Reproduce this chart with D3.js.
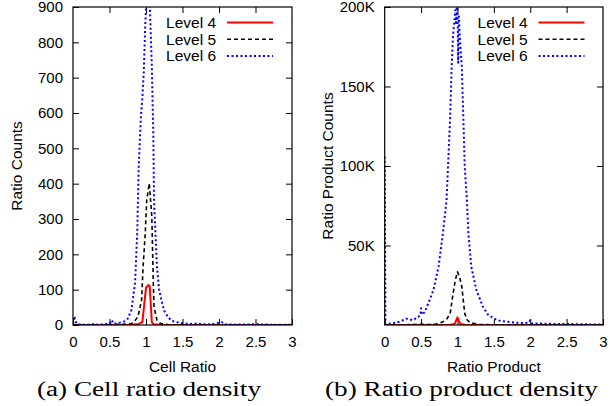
<!DOCTYPE html>
<html>
<head>
<meta charset="utf-8">
<script src="https://cdn.jsdelivr.net/npm/d3@7"></script>
<style>
  body { margin: 0; background: #fff; }
  svg { display: block; }
</style>
</head>
<body>
<svg id="main-svg"></svg>
<script>
// DATA
const X_TICKS = [0, 0.5, 1, 1.5, 2, 2.5, 3]
const CELL_Y_TICKS = [0, 100, 200, 300, 400, 500, 600, 700, 800, 900]
const PRODUCT_Y_TICKS = [50000, 100000, 150000, 200000]
const LEVELS = ["Level 4", "Level 5", "Level 6"]

// (a) cell ratio -> counts, [ratio, count]
const cellLevel4 = [[0, 0], [0.8, 1], [0.9, 3], [0.95, 8], [1.0, 105], [1.03, 113], [1.05, 111], [1.08, 8], [1.1, 2], [1.2, 0], [3, 0]]
const cellLevel5 = [[0, 0], [0.5, 1], [0.7, 2], [0.8, 4], [0.83, 8], [0.89, 23], [0.94, 71], [0.96, 164], [0.99, 260], [1.01, 354], [1.045, 401],
  [1.08, 306], [1.09, 212], [1.1, 119], [1.11, 51], [1.15, 14], [1.2, 4], [1.3, 1], [1.5, 0], [3, 0]]
const cellLevel6 = [[0, 2], [0.02, 25], [0.04, 8], [0.07, 2], [0.15, 1], [0.25, 1], [0.3, 4], [0.33, 1], [0.4, 2], [0.45, 3], [0.5, 4], [0.53, 14],
  [0.56, 3], [0.6, 5], [0.65, 7], [0.7, 10], [0.75, 18], [0.8, 42], [0.85, 119], [0.88, 260], [0.9, 447], [0.93, 589], [0.95, 640],
  [0.97, 720], [0.99, 850], [1.01, 940], [1.03, 980], [1.05, 920], [1.08, 730], [1.1, 541], [1.11, 352], [1.15, 164], [1.18, 100],
  [1.21, 71], [1.25, 40], [1.3, 23], [1.35, 12], [1.42, 8], [1.5, 5], [1.6, 3], [1.7, 4], [1.8, 2], [1.9, 2], [2.0, 6], [2.04, 8],
  [2.08, 2], [2.2, 1], [2.5, 2], [2.7, 1], [3, 1]]

// (b) ratio product -> counts
const productLevel4 = [[0, 0], [0.9, 100], [0.95, 500], [0.97, 1500], [1.0, 4800], [1.03, 1500], [1.05, 500], [1.1, 100], [3, 0]]
const productLevel5 = [[0, 0], [0.3, 200], [0.5, 500], [0.6, 300], [0.7, 500], [0.8, 2000], [0.85, 3500], [0.9, 7300], [0.94, 20000],
  [0.97, 28000], [1.0, 33500], [1.03, 30000], [1.06, 24000], [1.1, 7300], [1.13, 3500], [1.17, 1500], [1.3, 300], [1.5, 100],
  [2.5, 100], [3, 0]]
const productLevel6 = [[0, 106000], [0.01, 500], [0.05, 800], [0.1, 1000], [0.15, 1500], [0.2, 2000], [0.25, 3000], [0.3, 4000],
  [0.35, 3500], [0.39, 3000], [0.45, 5000], [0.49, 6000], [0.5, 10500], [0.51, 6500], [0.55, 8000], [0.58, 11500], [0.62, 16000],
  [0.67, 22000], [0.74, 36700], [0.8, 57700], [0.85, 78600], [0.87, 99600], [0.9, 131000], [0.92, 162000], [0.94, 183000],
  [0.96, 192000], [0.97, 198000], [0.98, 190000], [0.99, 199000], [1.0, 200000], [1.01, 165000], [1.02, 194000], [1.03, 183000],
  [1.06, 162000], [1.08, 131000], [1.1, 99600], [1.13, 78600], [1.15, 57700], [1.19, 36700], [1.26, 22000], [1.35, 11500],
  [1.42, 6500], [1.49, 4400], [1.55, 3000], [1.6, 2500], [1.7, 2000], [1.8, 1500], [1.9, 1200], [1.98, 1500], [2.0, 3000],
  [2.02, 1000], [2.1, 1000], [2.2, 800], [2.5, 600], [2.8, 400], [3, 300]]

// LAYOUT
const WIDTH = 610
const HEIGHT = 406
const PLOT_TOP = 7
const PLOT_BOTTOM = 325
const TICK_LEN = 6
const SANS = "'Liberation Sans', Arial, sans-serif"
const SERIF = "'Liberation Serif', 'Times New Roman', serif"

const STYLES = [
  { color: "#ff0000", width: 2, dash: null },
  { color: "#000000", width: 1.6, dash: "4,3" },
  { color: "#0000ff", width: 2, dash: "2,2.5" }
]

const svg = d3.select("#main-svg").attr("width", WIDTH).attr("height", HEIGHT)
svg.append("rect").attr("width", WIDTH).attr("height", HEIGHT).attr("fill", "#fff")

function drawPanel(opts) {
  const x = d3.scaleLinear().domain([0, 3]).range([opts.left, opts.right])
  const y = d3.scaleLinear().domain([0, opts.yMax]).range([PLOT_BOTTOM, PLOT_TOP])
  const g = svg.append("g")

  const clipId = "clip-" + opts.id
  svg.append("clipPath").attr("id", clipId)
    .append("rect")
    .attr("x", opts.left).attr("y", PLOT_TOP)
    .attr("width", opts.right - opts.left).attr("height", PLOT_BOTTOM - PLOT_TOP)

  // axes, gnuplot style: ticks inside, mirrored
  const bottom = g.append("g").attr("transform", `translate(0,${PLOT_BOTTOM})`)
    .call(d3.axisBottom(x).tickValues(X_TICKS).tickSize(-TICK_LEN).tickPadding(11).tickFormat(d3.format("")))
  const top = g.append("g").attr("transform", `translate(0,${PLOT_TOP})`)
    .call(d3.axisTop(x).tickValues(X_TICKS.slice(1, -1)).tickSize(-TICK_LEN).tickFormat(""))
  const left = g.append("g").attr("transform", `translate(${opts.left},0)`)
    .call(d3.axisLeft(y).tickValues(opts.yTicks).tickSize(-TICK_LEN).tickPadding(10).tickFormat(opts.yFormat))
  const right = g.append("g").attr("transform", `translate(${opts.right},0)`)
    .call(d3.axisRight(y).tickValues(opts.yTicks.filter(v => v > 0 && v < opts.yMax)).tickSize(-TICK_LEN).tickFormat(""))

  ;[bottom, top, left, right].forEach(a => {
    a.select(".domain").remove()
    a.selectAll("line").attr("stroke", "#000").attr("stroke-width", 1)
    a.selectAll("text").attr("font-family", SANS).attr("font-size", 15).attr("fill", "#000")
  })

  const line = d3.line().x(d => x(d[0])).y(d => y(d[1]))
  const lines = g.append("g").attr("clip-path", `url(#${clipId})`)
  opts.series.forEach((data, i) => {
    lines.append("path")
      .datum(data)
      .attr("d", line)
      .attr("fill", "none")
      .attr("stroke", STYLES[i].color)
      .attr("stroke-width", STYLES[i].width)
      .attr("stroke-dasharray", STYLES[i].dash)
      .attr("stroke-linejoin", "round")
  })

  // frame
  g.append("rect")
    .attr("x", opts.left).attr("y", PLOT_TOP)
    .attr("width", opts.right - opts.left).attr("height", PLOT_BOTTOM - PLOT_TOP)
    .attr("fill", "none").attr("stroke", "#000").attr("stroke-width", 1.2)

  // legend
  const legend = g.append("g")
  LEVELS.forEach((name, i) => {
    const ly = 22.5 + i * 16.7
    legend.append("text")
      .attr("x", opts.legendTextRight).attr("y", ly).attr("dy", "0.35em")
      .attr("text-anchor", "end")
      .attr("font-family", SANS).attr("font-size", 15.5)
      .text(name)
    legend.append("line")
      .attr("x1", opts.legendTextRight + 11).attr("x2", opts.legendTextRight + 57)
      .attr("y1", ly).attr("y2", ly)
      .attr("stroke", STYLES[i].color)
      .attr("stroke-width", STYLES[i].width)
      .attr("stroke-dasharray", STYLES[i].dash)
  })

  // axis titles
  g.append("text")
    .attr("x", (opts.left + opts.right) / 2).attr("y", 372)
    .attr("text-anchor", "middle")
    .attr("font-family", SANS).attr("font-size", 15.5)
    .text(opts.xTitle)
  g.append("text")
    .attr("transform", `translate(${opts.yTitleX},${(PLOT_TOP + PLOT_BOTTOM) / 2}) rotate(-90)`)
    .attr("text-anchor", "middle")
    .attr("font-family", SANS).attr("font-size", 15.5)
    .text(opts.yTitle)

  // caption
  g.append("text")
    .attr("x", opts.captionX).attr("y", 396)
    .attr("text-anchor", "middle")
    .attr("font-family", SERIF).attr("font-size", 20)
    .attr("textLength", opts.captionWidth).attr("lengthAdjust", "spacingAndGlyphs")
    .text(opts.caption)
}

drawPanel({
  id: "a", left: 73, right: 292, yMax: 900, yTicks: CELL_Y_TICKS, yFormat: d3.format("d"),
  series: [cellLevel4, cellLevel5, cellLevel6],
  legendTextRight: 216, xTitle: "Cell Ratio", yTitle: "Ratio Counts", yTitleX: 22,
  caption: "(a) Cell ratio density", captionX: 149, captionWidth: 224
})

drawPanel({
  id: "b", left: 384.7, right: 603, yMax: 200000, yTicks: PRODUCT_Y_TICKS, yFormat: d => (d / 1000) + "K",
  series: [productLevel4, productLevel5, productLevel6],
  legendTextRight: 527.5, xTitle: "Ratio Product", yTitle: "Ratio Product Counts", yTitleX: 333,
  caption: "(b) Ratio product density", captionX: 461.5, captionWidth: 273
})
</script>
</body>
</html>
